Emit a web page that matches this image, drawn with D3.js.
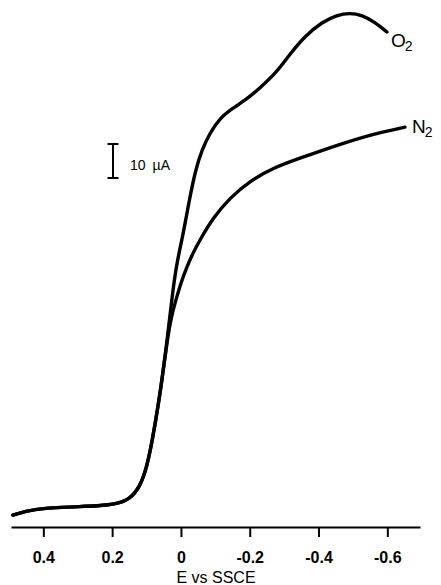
<!DOCTYPE html>
<html><head><meta charset="utf-8">
<script src="https://cdn.jsdelivr.net/npm/d3@7"></script>
<style>body{margin:0;background:#fff}svg{display:block}</style>
</head><body>
<script>
// Potential (V vs SSCE) and current (µA, relative to axis line)
const sharedE = [0.4884,0.4302,0.3314,0.2355,0.1860,0.1483,0.1192,0.0988,0.0814,0.0669,0.0552,0.0436];
const sharedI = [3.5,5.3,5.9,6.2,6.8,8.2,11.8,17.6,26.5,35.3,43.2,52.1];
const o2E = [0.0334,0.0233,0.0116,-0.0073,-0.0233,-0.0422,-0.0610,-0.0843,-0.1134,-0.1512,-0.1919,-0.2297,-0.2791,-0.3169,-0.3605,-0.4099,-0.4535,-0.4913,-0.5262,-0.5640,-0.5988];
const o2I = [60.9,69.7,77.9,86.5,95.6,105.0,110.9,115.9,120.3,123.2,125.9,129.1,133.8,139.1,144.4,148.5,150.6,151.2,150.6,148.5,145.6];
const n2E = [0.0305,0.0145,0,-0.0174,-0.0349,-0.0552,-0.0930,-0.1424,-0.2006,-0.2674,-0.3459,-0.4622,-0.5581,-0.6512];
const n2I = [60.9,66.8,71.8,76.5,80.6,84.4,90.9,96.8,101.8,105.6,108.5,112.6,115.6,117.6];
const tickValues = [0.4,0.2,0,-0.2,-0.4,-0.6];
const tickLabels = ["0.4","0.2","0","-0.2","-0.4","-0.6"];
const seriesLabels = ["O","N"];
const xTitle = "E vs SSCE";
const scaleBarValue = 10; // µA
const scaleBarNum = "10", scaleBarUnit = "µA";

const W = 441, H = 585;
const svg = d3.select("body").append("svg").attr("width", W).attr("height", H);
const x = d3.scaleLinear().domain([0.494, -0.695]).range([11, 420]);
const y = d3.scaleLinear().domain([0, 155]).range([527, 0]);

const toPts = (E, I) => E.map((e, i) => [e, I[i]]);
const shared = toPts(sharedE, sharedI);
const o2 = shared.concat(toPts(o2E, o2I));
const n2 = shared.concat(toPts(n2E, n2I));

const line = d3.line().x(d => x(d[0])).y(d => y(d[1])).curve(d3.curveBasis);

[n2, o2].forEach(s => {
  svg.append("path").attr("d", line(s)).attr("fill", "none")
    .attr("stroke", "#000").attr("stroke-width", 3.4)
    .attr("stroke-linecap", "round").attr("stroke-linejoin", "round");
});

// axis
const axis = d3.axisBottom(x).tickValues(tickValues)
  .tickFormat((d, i) => tickLabels[i]).tickSizeInner(10).tickSizeOuter(0).tickPadding(15);
const g = svg.append("g").attr("transform", `translate(0,${y(0)})`).call(axis);
g.select(".domain").attr("stroke", "#000").attr("stroke-width", 2.2);
g.selectAll(".tick line").attr("stroke", "#000").attr("stroke-width", 2);
g.selectAll(".tick text").attr("font-family", "Liberation Sans, Arial, sans-serif")
  .attr("font-size", 16).attr("font-weight", "bold").attr("fill", "#000");

svg.append("text").attr("x", 216).attr("y", 583).attr("text-anchor", "middle")
  .attr("font-family", "Liberation Sans, Arial, sans-serif").attr("font-size", 16)
  .text(xTitle);

// series labels
function subLabel(txt, px, py) {
  const t = svg.append("text").attr("x", px).attr("y", py)
    .attr("font-family", "Liberation Sans, Arial, sans-serif").attr("font-size", 19);
  t.append("tspan").text(txt);
  t.append("tspan").attr("font-size", 14).attr("dy", 4).attr("dx", -1).text("2");
}
const o2last = o2[o2.length - 1], n2last = n2[n2.length - 1];
subLabel(seriesLabels[0], x(o2last[0]) + 4, y(o2last[1]) + 15);
subLabel(seriesLabels[1], x(n2last[0]) + 7, y(n2last[1]) + 6);

// scale bar
const sbX = 113, sbTop = 144;
const sbBottom = sbTop + (y(0) - y(scaleBarValue));
const sb = svg.append("g").attr("stroke", "#000").attr("stroke-width", 2);
sb.append("line").attr("x1", sbX).attr("x2", sbX).attr("y1", sbTop).attr("y2", sbBottom);
sb.append("line").attr("x1", sbX - 5.5).attr("x2", sbX + 5.5).attr("y1", sbTop).attr("y2", sbTop);
sb.append("line").attr("x1", sbX - 5.5).attr("x2", sbX + 5.5).attr("y1", sbBottom).attr("y2", sbBottom);
const sbt = svg.append("text").attr("x", 130).attr("y", 170)
  .attr("font-family", "Liberation Sans, Arial, sans-serif").attr("font-size", 14);
sbt.append("tspan").text(scaleBarNum);
sbt.append("tspan").attr("dx", 7).text(scaleBarUnit);
</script>
</body></html>
